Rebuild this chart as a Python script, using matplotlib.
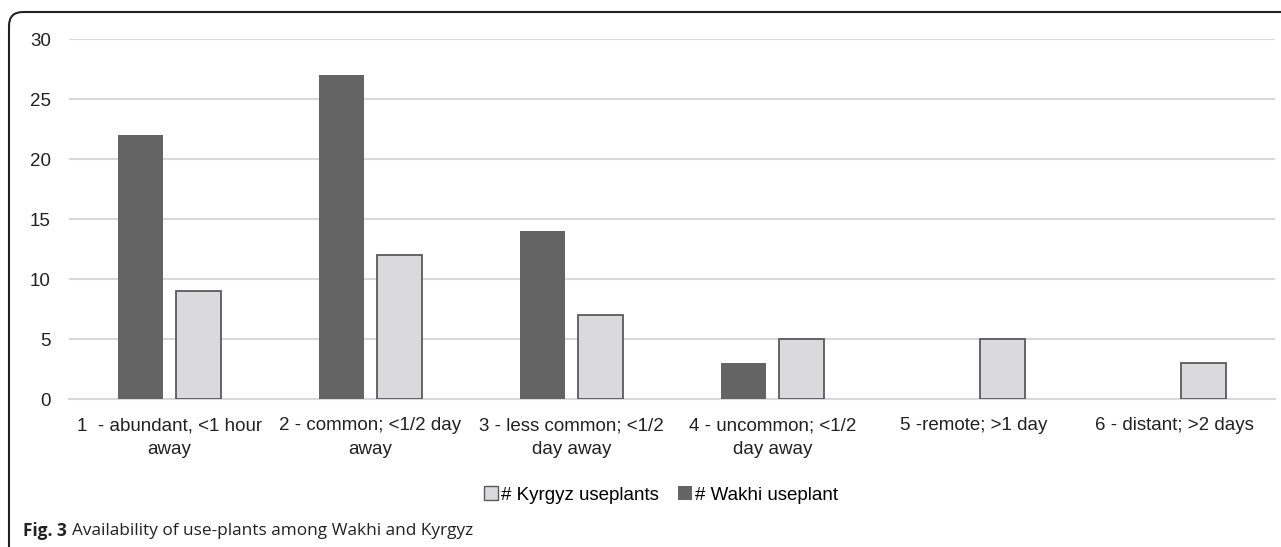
import numpy as np
import matplotlib
matplotlib.use("Agg")
import matplotlib.pyplot as plt
from matplotlib.path import Path
from matplotlib.patches import PathPatch, Patch

plt.rcParams['font.family'] = ['Liberation Sans', 'DejaVu Sans']

# data
categories = [
    "1  - abundant, <1 hour\naway",
    "2 - common; <1/2 day\naway",
    "3 - less common; <1/2\nday away",
    "4 - uncommon; <1/2\nday away",
    "5 -remote; >1 day",
    "6 - distant; >2 days",
]
wakhi = [22, 27, 14, 3, 0, 0]
kyrgyz = [9, 12, 7, 5, 5, 3]

dark = "#646464"
light = "#dadadc"
light_edge = "#5a5a5a"
grid_col = "#d9d9d9"

W, H = 1281, 547
fig = plt.figure(figsize=(W / 100, H / 100), dpi=100)
ax = fig.add_axes([69 / W, 1 - 399 / H, (1275 - 69) / W, (399 - 39) / H])

x = np.arange(len(categories))
bw = 0.224
off = 0.142
ax.bar(x - off, wakhi, bw, color=dark, edgecolor="none", zorder=3)
ax.bar(x + off, kyrgyz, bw, color=light, edgecolor=light_edge, linewidth=1.3, zorder=3)

ax.set_xlim(-0.5, len(categories) - 0.5)
ax.set_ylim(0, 30)
ax.set_yticks(range(0, 31, 5))
ax.set_xticks(x)
ax.set_xticklabels(categories, fontsize=13.5, color="#222222", linespacing=1.5)
ax.tick_params(axis="y", labelsize=13.5, colors="#222222", length=0, pad=13)
ax.tick_params(axis="x", length=0, pad=13)
ax.grid(axis="y", color=grid_col, linewidth=1.5, zorder=0)
for s in ["top", "right", "left"]:
    ax.spines[s].set_visible(False)
ax.spines["bottom"].set_color(grid_col)
ax.spines["bottom"].set_linewidth(1.5)

handles = [Patch(facecolor=light, edgecolor=light_edge, linewidth=1.0, label="# Kyrgyz useplants"),
           Patch(facecolor=dark, edgecolor="none", label="# Wakhi useplant")]
fig.legend(handles=handles, loc="center", bbox_to_anchor=(661 / W, 1 - 495 / H), ncol=2,
           frameon=False, fontsize=13.5, handlelength=0.75, handleheight=0.75,
           handletextpad=0.15, columnspacing=1.0)

# caption
cap_y = 1 - 531 / H
t1 = fig.text(23 / W, cap_y, "Fig. 3", fontsize=12.4, fontweight="bold",
              family=["Open Sans", "DejaVu Sans"], va="center", color="#222222")
fig.canvas.draw()
bb = t1.get_window_extent()
fig.text((bb.x1 + 5) / W, cap_y, "Availability of use-plants among Wakhi and Kyrgyz",
         fontsize=12.4, family=["Open Sans", "DejaVu Sans"], va="center", color="#222222")

# frame with rounded top-left corner
r = 14
verts = [(9, H), (9, 12 + r), (9, 12), (9 + r, 12), (W, 12)]
codes = [Path.MOVETO, Path.LINETO, Path.CURVE3, Path.CURVE3, Path.LINETO]
verts = [(vx / W, 1 - vy / H) for vx, vy in verts]
fig.add_artist(PathPatch(Path(verts, codes), fill=False, edgecolor="#222222",
                         linewidth=1.5, transform=fig.transFigure))

fig.savefig("out.png", dpi=100)
